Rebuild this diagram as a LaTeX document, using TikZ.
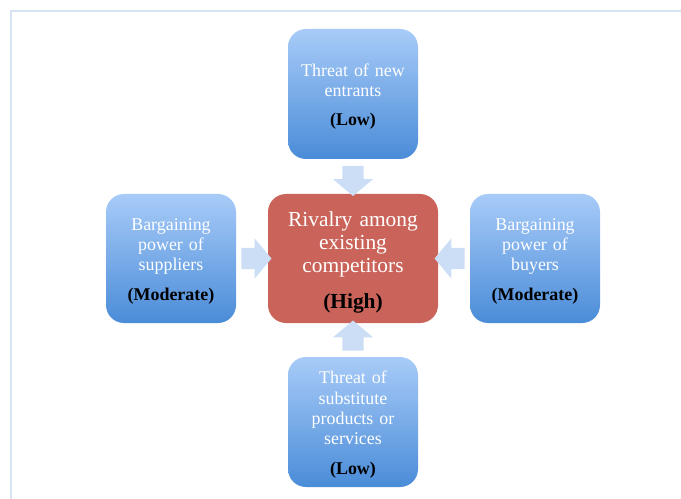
\documentclass[tikz,border=0pt]{standalone}
\usepackage{fontspec}
\setmainfont{Liberation Serif}
\usetikzlibrary{shapes.arrows,calc}
\definecolor{frameC}{HTML}{D5E3F4}
\definecolor{bTop}{HTML}{A8CBF8}
\definecolor{bBot}{HTML}{4A8CD8}
\definecolor{rRed}{HTML}{CA645A}
\definecolor{aBlue}{HTML}{CCDEF5}
\tikzset{
  force/.style={rounded corners=18bp, top color=bTop, bottom color=bBot, draw=none,
    minimum width=130bp, minimum height=130bp, text width=124bp, align=center,
    font=\fontsize{18}{20.5}\selectfont, text=white, inner sep=0pt},
  rival/.style={rounded corners=18bp, fill=rRed, draw=none,
    minimum width=170bp, minimum height=129bp, text width=164bp, align=center,
    font=\fontsize{21.5}{23}\selectfont, text=white, inner sep=0pt},
  blockarrow/.style={single arrow, draw=none, fill=aBlue, inner xsep=0pt, inner ysep=10.5bp,
    single arrow head extend=9.5bp, single arrow tip angle=100, minimum height=30bp, minimum width=40bp}
}
\newcommand{\rate}[1]{{\color{black}\bfseries #1}}
\newcommand{\tstrut}[1]{\rule{0pt}{#1}}
\begin{document}
\begin{tikzpicture}[x=1bp,y=-1bp]
\useasboundingbox (0,0) rectangle (681,499);
\draw[frameC, line width=2bp] (11,499) -- (11,11) -- (681,11);
\node[force] (top) at (353,94) {\tstrut{17.3bp}Threat of new\\ entrants\\[8.5bp] \rate{(Low)}};
\node[force, minimum height=129bp] (left) at (171,258.5) {\tstrut{17.8bp}Bargaining\\ power of\\ suppliers\\[9.5bp] \rate{(Moderate)}};
\node[rival] (c) at (353,258.5) {\tstrut{22.7bp}Rivalry among\\ existing\\ competitors\\[13bp] \rate{(High)}};
\node[force, minimum height=129bp] (right) at (535,258.5) {\tstrut{17.8bp}Bargaining\\ power of\\ buyers\\[9.5bp] \rate{(Moderate)}};
\node[force] (bot) at (353,422) {\tstrut{17.8bp}Threat of\\ substitute\\ products or\\ services\\[9bp] \rate{(Low)}};
\node[blockarrow, rotate=-90] (a1) at ($(top.south)!0.5!(c.north)$) {};
\node[blockarrow] (a2) at ($(left.east)!0.5!(c.west)$) {};
\node[blockarrow, rotate=180] (a3) at ($(right.west)!0.5!(c.east)$) {};
\node[blockarrow, rotate=90] (a4) at ($(bot.north)!0.5!(c.south)$) {};
\end{tikzpicture}
\end{document}
